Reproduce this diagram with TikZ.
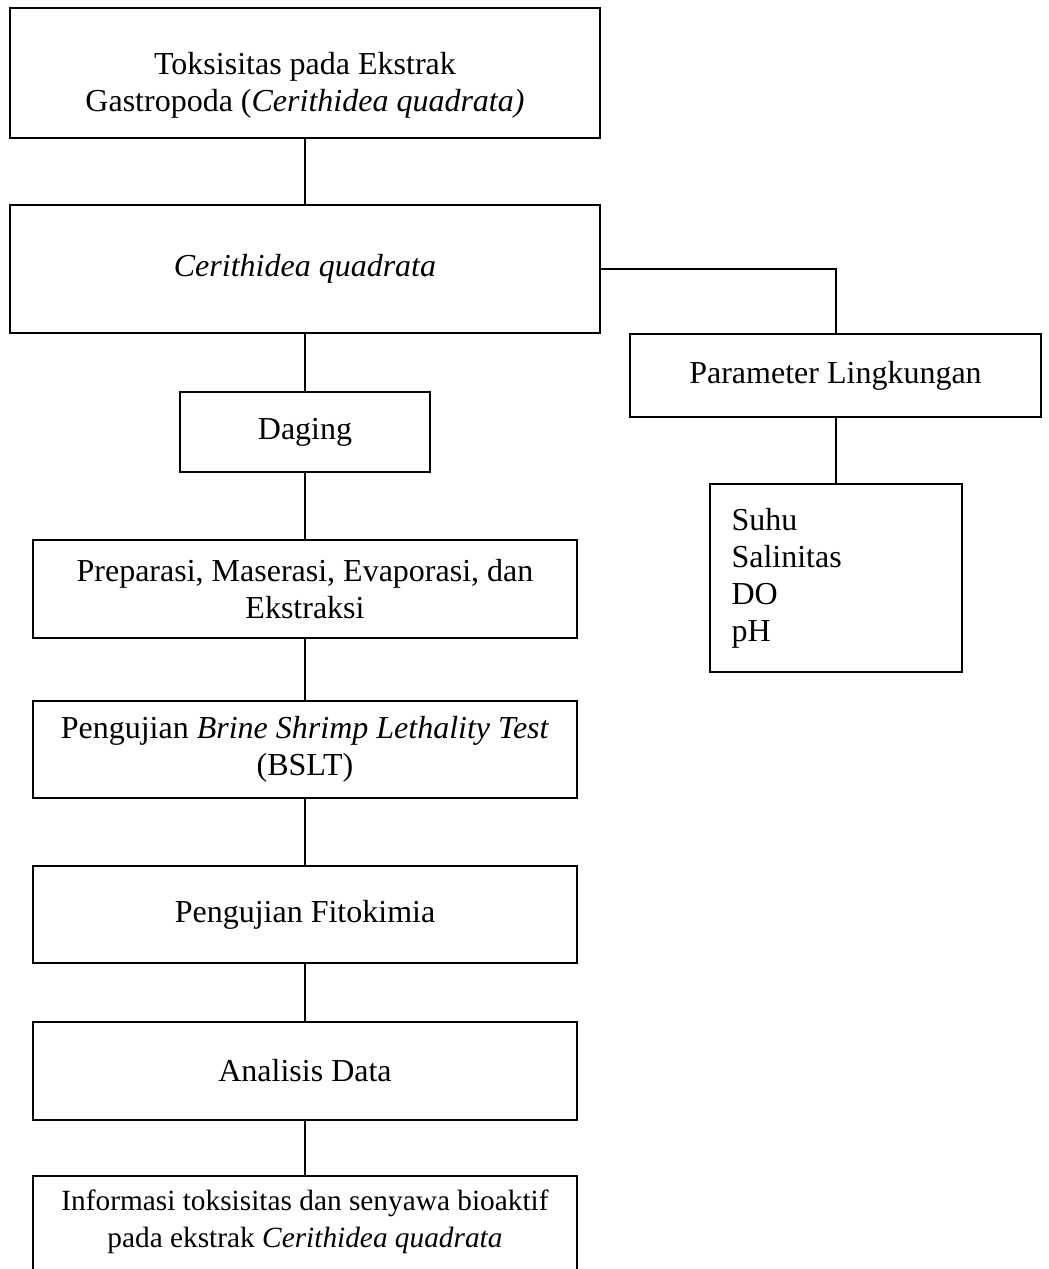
\documentclass[tikz,border=0pt]{standalone}
\usepackage{fontspec}
\setmainfont{Liberation Serif}
\usetikzlibrary{positioning}
\tikzset{
  every picture/.style={line width=1.5pt},
  link/.style={draw=black, line width=1.5pt},
}

\begin{document}
\begin{tikzpicture}[node distance=50pt,
  box/.style={draw=black, line width=1.5pt, align=center, inner sep=3pt, outer sep=0pt, font=\fontsize{24}{27.75}\selectfont},
  big/.style={box, minimum width=442.5pt},
  mid/.style={box, minimum width=408pt},
  small/.style={box, minimum width=187.5pt, minimum height=60pt},
  param/.style={box, minimum width=308.25pt, minimum height=62.25pt},
  items/.style={box, align=left, text width=156pt, inner xsep=16.5pt, minimum height=141pt}]
  \useasboundingbox (0,0) rectangle (786pt,-951.75pt);
  \node[big, minimum height=97.5pt] (top) at (228.75pt,-54.75pt) {\rule{0pt}{35pt}Toksisitas pada Ekstrak\\Gastropoda (\textit{Cerithidea quadrata)}};
  \node[big, minimum height=96pt, below=50.25pt of top] (ceri) {\textit{Cerithidea quadrata}};
  \node[small, below=44.25pt of ceri] (daging) {Daging};
  \node[mid, minimum height=73.5pt, below=51pt of daging] (prep) {Preparasi, Maserasi, Evaporasi, dan\\Ekstraksi};
  \node[mid, minimum height=72.75pt, below=47.25pt of prep] (bslt) {Pengujian \textit{Brine Shrimp Lethality Test}\\(BSLT)};
  \node[mid, minimum height=72.75pt, below=51pt of bslt] (fito) {Pengujian Fitokimia};
  \node[mid, minimum height=73.5pt, below=44.25pt of fito] (data) {Analisis Data};
  \node[mid, font=\fontsize{22}{27.75}\selectfont, inner ysep=10pt, text depth=14pt, below=42pt of data] (info) {Informasi toksisitas dan senyawa bioaktif\\pada ekstrak \textit{Cerithidea quadrata}};
  \node[param, below right=48.75pt and 22.5pt of ceri.east, anchor=north west] (env) {Parameter Lingkungan};
  \node[items, below=50.25pt of env] (vars) {Suhu\\Salinitas\\DO\\pH};
  \draw[link] (top) -- (ceri);
  \draw[link] (ceri) -- (daging);
  \draw[link] (daging) -- (prep);
  \draw[link] (prep) -- (bslt);
  \draw[link] (bslt) -- (fito);
  \draw[link] (fito) -- (data);
  \draw[link] (data) -- (info);
  \draw[link] (ceri.east) -| (env.north);
  \draw[link] (env) -- (vars);
\end{tikzpicture}
\end{document}
